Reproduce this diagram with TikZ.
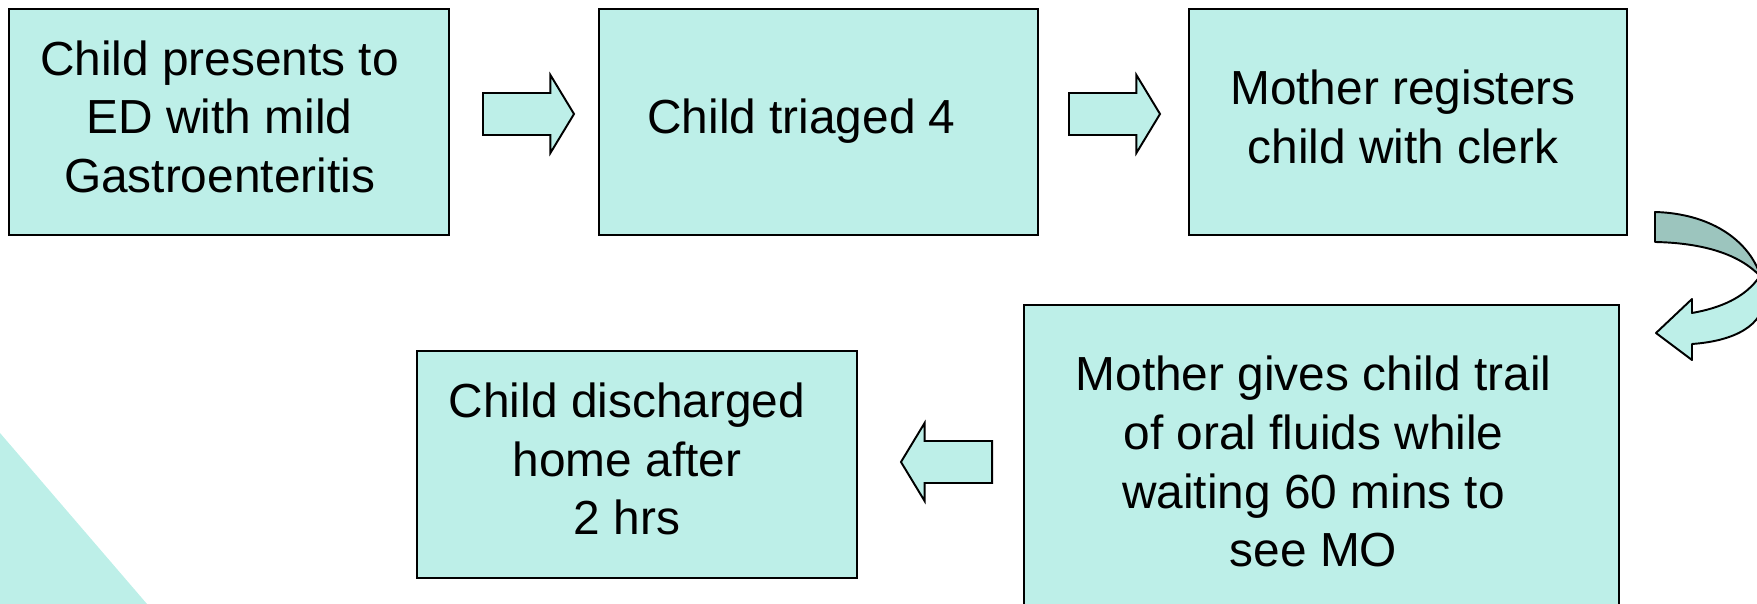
\documentclass[tikz,border=0pt]{standalone}
\usepackage{fontspec}
\setmainfont{Liberation Sans}
\usetikzlibrary{shapes.arrows, positioning}

\definecolor{boxfill}{RGB}{189,239,232}
\definecolor{backfill}{RGB}{156,197,190}

% lines of a box, with some room kept on their right
\newcommand{\steplines}[2]{\begin{tabular}{@{}c@{\hspace{#1}}}#2\end{tabular}}

\begin{document}
\begin{tikzpicture}[
    x=0.01cm, y=-0.01cm,
    % Step boxes
    stepbox/.style={
        rectangle,
        draw=black,
        line width=0.55pt,
        fill=boxfill,
        inner sep=0pt,
        minimum height=2.26cm,
        font=\fontsize{13.6}{16.7}\selectfont
    },
    % Block arrows between steps
    blockarrow/.style={
        single arrow,
        draw=black,
        line width=0.55pt,
        fill=boxfill,
        inner xsep=0pt,
        inner ysep=0.2cm,
        minimum height=0.91cm,
        single arrow head extend=0.18cm,
        single arrow tip angle=117.6,
        anchor=tail
    }
]
\useasboundingbox (0,0) rectangle (1757,604);
\clip (0,0) rectangle (1757,604);

% === Background corner ===
\fill[boxfill] (0,433) -- (147,604) -- (0,604) -- cycle;

% === Top row ===
\node[stepbox, minimum width=4.40cm] (presents) at (229,122)
    {\steplines{0.19cm}{Child presents to\\ED with mild\\Gastroenteritis}};
\node[stepbox, minimum width=4.39cm] (triaged) at (818.5,122)
    {\steplines{0.34cm}{Child triaged 4}};
\node[stepbox, minimum width=4.38cm] (registers) at (1408,122)
    {\steplines{0.10cm}{Mother registers\\child with clerk}};

% === Bottom row ===
\node[stepbox, minimum width=5.95cm, minimum height=3.24cm] (fluids) at (1321.5,467)
    {\steplines{0.16cm}{Mother gives child trail\\of oral fluids while\\waiting 60 mins to\\see MO}};
\node[stepbox, minimum width=4.40cm, minimum height=2.27cm] (discharged) at (637,464.5)
    {\steplines{0.20cm}{Child discharged\\home after\\2 hrs}};

% === Block arrows ===
\node[blockarrow] (arrowa) at (482,114) {};
\node[blockarrow] (arrowb) at (1068,114) {};
\node[blockarrow, shape border rotate=180] (arrowc) at (993,462) {};

% === Curved arrow round the right side ===
\coordinate (turntop) at (1655,212);
\coordinate (turnin) at (1655,242);
\coordinate (twist) at (1760,276);
\fill[boxfill] (turntop) .. controls (1725,214) and (1764,255) .. (1764,298)
    .. controls (1764,325) and (1735,341) .. (1692,344)
    -- (1692,360) -- (1656,333) -- (1692,299) -- (1692,313)
    .. controls (1720,308) and (1745,298) .. (twist)
    .. controls (1740,255) and (1705,243) .. (turnin) -- cycle;
\fill[backfill] (turntop) .. controls (1725,214) and (1764,255) .. (1764,298)
    -- (twist) .. controls (1740,255) and (1705,243) .. (turnin) -- cycle;
\draw[line width=0.55pt, line join=round] (turntop) .. controls (1725,214) and (1764,255) .. (1764,298)
    .. controls (1764,325) and (1735,341) .. (1692,344)
    -- (1692,360) -- (1656,333) -- (1692,299) -- (1692,313)
    .. controls (1720,308) and (1745,298) .. (twist)
    .. controls (1740,255) and (1705,243) .. (turnin) -- cycle;

\end{tikzpicture}
\end{document}
